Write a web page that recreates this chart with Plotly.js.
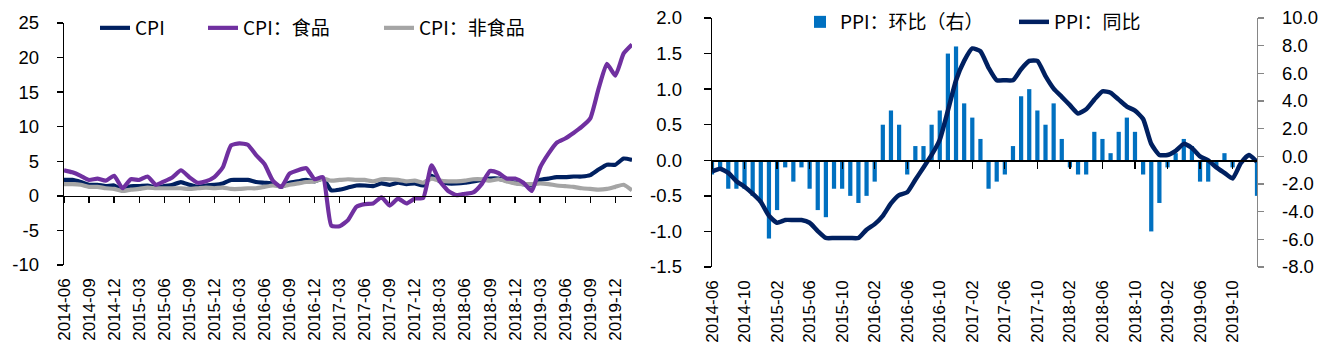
<!DOCTYPE html>
<html>
<head>
<meta charset="utf-8">
<script src="https://cdn.plot.ly/plotly-3.0.1.min.js"></script>
<style>html,body{margin:0;padding:0;background:#fff;}#chart{width:1327px;height:354px;}</style>
</head>
<body>
<div id="chart"></div>
<script>
// ---------- Left chart: CPI ----------
const cpiMonths = [
 "2014-06","2014-07","2014-08","2014-09","2014-10","2014-11","2014-12",
 "2015-01","2015-02","2015-03","2015-04","2015-05","2015-06","2015-07","2015-08","2015-09","2015-10","2015-11","2015-12",
 "2016-01","2016-02","2016-03","2016-04","2016-05","2016-06","2016-07","2016-08","2016-09","2016-10","2016-11","2016-12",
 "2017-01","2017-02","2017-03","2017-04","2017-05","2017-06","2017-07","2017-08","2017-09","2017-10","2017-11","2017-12",
 "2018-01","2018-02","2018-03","2018-04","2018-05","2018-06","2018-07","2018-08","2018-09","2018-10","2018-11","2018-12",
 "2019-01","2019-02","2019-03","2019-04","2019-05","2019-06","2019-07","2019-08","2019-09","2019-10","2019-11","2019-12",
 "2020-01","2020-02"];
const cpi = [
 2.3,2.3,2.0,1.6,1.6,1.4,1.5,
 0.8,1.4,1.4,1.5,1.2,1.4,1.6,2.0,1.6,1.3,1.5,1.6,
 1.8,2.3,2.3,2.3,2.0,1.9,1.8,1.3,1.9,2.1,2.3,2.1,
 2.5,0.8,0.9,1.2,1.5,1.5,1.4,1.8,1.6,1.9,1.7,1.8,
 1.5,2.9,2.1,1.8,1.8,1.9,2.1,2.3,2.5,2.5,2.2,1.9,
 1.7,1.5,2.3,2.5,2.7,2.7,2.8,2.8,3.0,3.8,4.5,4.5,
 5.4,5.2];
const cpiFood = [
 3.7,3.4,2.9,2.3,2.5,2.2,2.9,
 1.1,2.4,2.3,2.8,1.6,2.1,2.7,3.7,2.7,1.9,2.1,2.7,
 4.1,7.3,7.6,7.4,5.9,4.6,2.2,1.3,3.2,3.7,4.0,2.4,
 2.7,-4.3,-4.4,-3.5,-1.6,-1.2,-1.1,-0.2,-1.4,-0.4,-1.1,-0.4,
 -0.3,4.4,2.1,0.7,0.1,0.3,0.5,1.7,3.6,3.3,2.5,2.5,
 1.9,0.7,4.1,6.1,7.7,8.3,9.1,10.0,11.2,15.5,19.1,17.4,
 20.6,21.9];
const cpiNonFood = [
 1.7,1.7,1.6,1.3,1.3,1.1,1.0,
 0.7,0.9,1.0,1.2,1.1,1.1,1.1,1.1,1.0,1.1,1.2,1.1,
 1.2,1.0,1.0,1.1,1.1,1.3,1.5,1.4,1.6,1.8,2.0,2.1,
 2.5,2.2,2.3,2.4,2.3,2.3,2.1,2.4,2.4,2.3,2.1,2.2,
 1.9,2.5,2.2,2.1,2.1,2.2,2.4,2.4,2.2,2.4,2.1,1.8,
 1.7,1.7,1.8,1.7,1.5,1.4,1.3,1.1,1.0,0.9,1.0,1.3,
 1.6,0.8];
const cpiTickLabels = ["2014-06","2014-09","2014-12","2015-03","2015-06","2015-09","2015-12",
 "2016-03","2016-06","2016-09","2016-12","2017-03","2017-06","2017-09","2017-12",
 "2018-03","2018-06","2018-09","2018-12","2019-03","2019-06","2019-09","2019-12"];
const cpiYTickVals = [-10,-5,0,5,10,15,20,25];
const cpiYTickText = ["-10","-5","0","5","10","15","20","25"];

// ---------- Right chart: PPI ----------
const ppiMonths = [
 "2014-06","2014-07","2014-08","2014-09","2014-10","2014-11","2014-12",
 "2015-01","2015-02","2015-03","2015-04","2015-05","2015-06","2015-07","2015-08","2015-09","2015-10","2015-11","2015-12",
 "2016-01","2016-02","2016-03","2016-04","2016-05","2016-06","2016-07","2016-08","2016-09","2016-10","2016-11","2016-12",
 "2017-01","2017-02","2017-03","2017-04","2017-05","2017-06","2017-07","2017-08","2017-09","2017-10","2017-11","2017-12",
 "2018-01","2018-02","2018-03","2018-04","2018-05","2018-06","2018-07","2018-08","2018-09","2018-10","2018-11","2018-12",
 "2019-01","2019-02","2019-03","2019-04","2019-05","2019-06","2019-07","2019-08","2019-09","2019-10","2019-12",
 "2020-01","2020-02"];
const ppiMoM = [
 -0.2,-0.1,-0.4,-0.4,-0.4,-0.5,-0.6,
 -1.1,-0.7,-0.1,-0.3,-0.1,-0.4,-0.7,-0.8,-0.4,-0.4,-0.5,-0.6,
 -0.5,-0.3,0.5,0.7,0.5,-0.2,0.2,0.2,0.5,0.7,1.5,1.6,
 0.8,0.6,0.3,-0.4,-0.3,-0.2,0.2,0.9,1.0,0.7,0.5,0.8,
 0.3,-0.1,-0.2,-0.2,0.4,0.3,0.1,0.4,0.6,0.4,-0.2,-1.0,
 -0.6,-0.1,0.1,0.3,0.2,-0.3,-0.3,-0.1,0.1,-0.1,0.0,
 0.0,-0.5];
const ppiYoY = [
 -1.1,-0.9,-1.2,-1.8,-2.2,-2.7,-3.3,
 -4.3,-4.8,-4.6,-4.6,-4.6,-4.8,-5.4,-5.9,-5.9,-5.9,-5.9,-5.9,
 -5.3,-4.9,-4.3,-3.4,-2.8,-2.6,-1.7,-0.8,0.1,1.2,3.3,5.5,
 6.9,7.8,7.6,6.4,5.5,5.5,5.5,6.3,6.9,6.9,5.8,4.9,
 4.3,3.7,3.1,3.4,4.1,4.7,4.6,4.1,3.6,3.3,2.7,0.9,
 0.1,0.1,0.4,0.9,0.6,0.0,-0.3,-0.8,-1.2,-1.6,-0.5,
 0.1,-0.4];
const ppiTickLabels = ["2014-06","2014-10","2015-02","2015-06","2015-10","2016-02","2016-06",
 "2016-10","2017-02","2017-06","2017-10","2018-02","2018-06","2018-10","2019-02","2019-06","2019-10"];
const ppiLeftTickVals = [-1.5,-1.0,-0.5,0.0,0.5,1.0,1.5,2.0];
const ppiLeftTickText = ["-1.5","-1.0","-0.5","0.0","0.5","1.0","1.5","2.0"];
const ppiRightTickVals = [-8,-6,-4,-2,0,2,4,6,8,10];
const ppiRightTickText = ["-8.0","-6.0","-4.0","-2.0","0.0","2.0","4.0","6.0","8.0","10.0"];

// ---------- layout helpers ----------
const W = 1327, H = 354;
const fx = p => p / W;
const fy = p => 1 - p / H;
const numFont = {family: "Liberation Sans, Arial, sans-serif", size: 18.5, color: "#000"};
const dateFont = {family: "Liberation Sans, Arial, sans-serif", size: 17, color: "#000"};
const legFont = {family: "Noto Sans CJK SC, sans-serif", size: 19, color: "#000"};

const NAVY = "#002060", PURPLE = "#7030A0", GRAY = "#A5A5A5", BLUE = "#0070C0";

const traces = [
  {type: "scatter", mode: "lines", name: "CPI", x: cpiMonths, y: cpi, xaxis: "x", yaxis: "y",
   line: {color: NAVY, width: 4.2, shape: "spline", smoothing: 0.5}, legend: "legend", hoverinfo: "skip"},
  {type: "scatter", mode: "lines", name: "CPI：非食品", x: cpiMonths, y: cpiNonFood, xaxis: "x", yaxis: "y",
   line: {color: GRAY, width: 4.2, shape: "spline", smoothing: 0.5}, legend: "legend3", hoverinfo: "skip"},
  {type: "scatter", mode: "lines", name: "CPI：食品", x: cpiMonths, y: cpiFood, xaxis: "x", yaxis: "y",
   line: {color: PURPLE, width: 4.2, shape: "spline", smoothing: 0.5}, legend: "legend2", hoverinfo: "skip"},
  // zero-crossing axis helper (left)
  {type: "scatter", mode: "lines", x: [0], y: [null], xaxis: "x3", yaxis: "y", showlegend: false, hoverinfo: "skip"},
  {type: "bar", name: "PPI：环比（右）", x: ppiMonths, y: ppiMoM, xaxis: "x2", yaxis: "y2", width: 0.52,
   marker: {color: BLUE, line: {width: 0}}, legend: "legend4", hoverinfo: "skip"},
  {type: "scatter", mode: "lines", x: [0], y: [null], xaxis: "x4", yaxis: "y2", showlegend: false, hoverinfo: "skip"},
  {type: "scatter", mode: "lines", name: "PPI：同比", x: ppiMonths, y: ppiYoY, xaxis: "x2", yaxis: "y3",
   line: {color: NAVY, width: 4.5, shape: "spline", smoothing: 0.5}, legend: "legend5", hoverinfo: "skip"}
];

const legBase = {orientation: "h", xanchor: "left", yanchor: "middle", bgcolor: "rgba(0,0,0,0)", font: legFont, borderwidth: 0};

const layout = {
  width: W, height: H,
  margin: {l: 0, r: 0, t: 0, b: 0},
  paper_bgcolor: "#fff", plot_bgcolor: "rgba(0,0,0,0)",
  showlegend: true,
  bargap: 0.48,
  xaxis: {domain: [fx(64), fx(632)], anchor: "y", type: "category", range: [0, 68],
    tickmode: "array", tickvals: cpiTickLabels, ticktext: cpiTickLabels, tickangle: -90,
    ticks: "", showline: false, showgrid: false, zeroline: false, tickfont: dateFont, ticklabelstandoff: 9},
  xaxis3: {overlaying: "x", anchor: "free", position: fy(195.5), type: "linear", range: [0, 68],
    tickmode: "linear", tick0: 0, dtick: 3, ticks: "outside", ticklen: 6, tickwidth: 1.3, tickcolor: "#000",
    showline: true, linecolor: "#000", linewidth: 1.3, showticklabels: false, showgrid: false, zeroline: false},
  yaxis: {domain: [fy(265), fy(23)], anchor: "x", range: [-10, 25], tickmode: "array",
    tickvals: cpiYTickVals, ticktext: cpiYTickText, showline: true, linecolor: "#000", linewidth: 1.3,
    ticks: "outside", ticklen: 6, tickwidth: 1.3, tickcolor: "#000", showgrid: false, zeroline: false,
    tickfont: numFont, ticklabelstandoff: 14},

  xaxis2: {domain: [fx(712), fx(1257)], anchor: "y2", type: "category", range: [0, 67],
    tickmode: "array", tickvals: ppiTickLabels, ticktext: ppiTickLabels, tickangle: -90,
    ticks: "", showline: false, showgrid: false, zeroline: false, tickfont: dateFont, ticklabelstandoff: 9},
  xaxis4: {overlaying: "x2", anchor: "free", position: fy(160.3), type: "linear", range: [0, 67],
    tickmode: "linear", tick0: 0, dtick: 4, ticks: "outside", ticklen: 7, tickwidth: 1.3, tickcolor: "#000",
    showline: true, linecolor: "#000", linewidth: 1.3, showticklabels: false, showgrid: false, zeroline: false},
  yaxis2: {domain: [fy(267), fy(18)], anchor: "x2", range: [-1.5, 2.0], tickmode: "array",
    tickvals: ppiLeftTickVals, ticktext: ppiLeftTickText, showline: true, linecolor: "#000", linewidth: 1.3,
    ticks: "outside", ticklen: 7, tickwidth: 1.3, tickcolor: "#000", showgrid: false, zeroline: false,
    tickfont: numFont, ticklabelstandoff: 18},
  yaxis3: {overlaying: "y2", side: "right", anchor: "x2", range: [-8, 10], tickmode: "array",
    tickvals: ppiRightTickVals, ticktext: ppiRightTickText, showline: true, linecolor: "#868686", linewidth: 1.3,
    ticks: "outside", ticklen: 6, tickwidth: 1.3, tickcolor: "#868686", showgrid: false, zeroline: false,
    tickfont: numFont, ticklabelstandoff: 14},

  legend:  Object.assign({}, legBase, {x: fx(95),  y: fy(28)}),
  legend2: Object.assign({}, legBase, {x: fx(203), y: fy(28)}),
  legend3: Object.assign({}, legBase, {x: fx(379), y: fy(28)}),
  legend4: Object.assign({}, legBase, {x: fx(800), y: fy(22)}),
  legend5: Object.assign({}, legBase, {x: fx(1014), y: fy(22)})
};

Plotly.newPlot("chart", traces, layout, {staticPlot: true, displayModeBar: false});
</script>
</body>
</html>
